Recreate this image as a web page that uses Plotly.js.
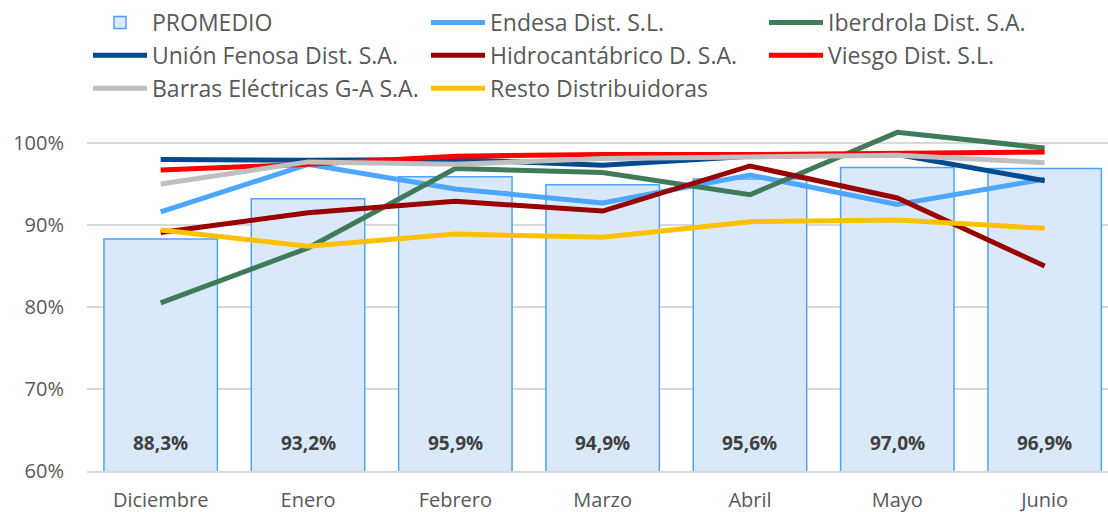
<!DOCTYPE html>
<html>
<head>
<meta charset="utf-8">
<script src="https://cdn.plot.ly/plotly-3.0.1.min.js"></script>
<style>html,body{margin:0;padding:0;background:#fff;}#chart{width:1108px;height:512px;}</style>
</head>
<body>
<div id="chart"></div>
<script>
const months = ["Diciembre","Enero","Febrero","Marzo","Abril","Mayo","Junio"];
const promedio = [88.3, 93.2, 95.9, 94.9, 95.6, 97.0, 96.9];
const endesa = [91.6, 97.4, 94.4, 92.7, 96.1, 92.5, 95.6];
const iberdrola = [80.5, 87.2, 96.9, 96.4, 93.7, 101.3, 99.4];
const unionFenosa = [98.0, 97.9, 98.0, 97.3, 98.4, 98.6, 95.4];
const hidrocantabrico = [89.1, 91.5, 92.9, 91.7, 97.2, 93.3, 85.0];
const viesgo = [96.7, 97.4, 98.4, 98.6, 98.6, 98.7, 98.9];
const barras = [95.0, 97.7, 97.4, 98.1, 98.3, 98.5, 97.6];
const resto = [89.4, 87.4, 88.9, 88.5, 90.4, 90.6, 89.6];
const yTicks = [60, 70, 80, 90, 100];

const FONT = "Open Sans, Noto Sans, sans-serif";
const GREY = "#595959";

function line(name, y, color, legend) {
  return {type: "scatter", mode: "lines", name: name, x: months, y: y,
    line: {color: color, width: 5}, legend: legend, legendgroup: name};
}

const traces = [
  {type: "bar", name: "PROMEDIO", x: months, y: promedio, width: 0.77,
   marker: {color: "#DAE9FA", line: {color: "#4DA3FF", width: 1.5}},
   legend: "legend", legendgroup: "PROMEDIO", hoverinfo: "y"},
  line("Endesa Dist. S.L.", endesa, "#4DA6FF", "legend2"),
  line("Iberdrola Dist. S.A.", iberdrola, "#3F7A5A", "legend3"),
  line("Unión Fenosa Dist. S.A.", unionFenosa, "#004A8F", "legend"),
  line("Hidrocantábrico D. S.A.", hidrocantabrico, "#990000", "legend2"),
  line("Viesgo Dist. S.L.", viesgo, "#FF0000", "legend3"),
  line("Barras Eléctricas G-A S.A.", barras, "#BFBFBF", "legend"),
  line("Resto Distribuidoras", resto, "#FFC000", "legend2")
];

const annotations = months.map((m, i) => ({
  x: m, xref: "x", y: 0, yref: "paper", yanchor: "bottom", yshift: 13,
  text: promedio[i].toFixed(1).replace(".", ",") + "%", showarrow: false,
  font: {family: FONT, size: 19, color: "#404040", weight: "bold"}
}));

function leg(xpx) {
  return {orientation: "v", xref: "container", yref: "container",
    x: (xpx - 24) / 1108, y: 1 - 1 / 512, xanchor: "left", yanchor: "top",
    itemwidth: 54,
    font: {family: FONT, size: 23, color: GREY}, tracegroupgap: 0,
    bgcolor: "rgba(0,0,0,0)", borderwidth: 0, traceorder: "grouped"};
}

const layout = {
  width: 1108, height: 512,
  margin: {l: 87, r: 0, t: 114, b: 41, autoexpand: false},
  paper_bgcolor: "#fff", plot_bgcolor: "#fff",
  separators: ",.",
  showlegend: true,
  legend: leg(112), legend2: leg(450), legend3: leg(788),
  xaxis: {type: "category", range: [-0.5, 6.43], showgrid: false,
    showline: true, linecolor: "#D9D9D9", linewidth: 1.5, ticks: "",
    tickfont: {family: FONT, size: 20, color: GREY}, ticklabelstandoff: 10},
  yaxis: {range: [60, 103.54], tickmode: "array", tickvals: yTicks,
    ticktext: yTicks.map(v => v + "%"),
    showgrid: true, gridcolor: "#D9D9D9", gridwidth: 1.5, zeroline: false,
    showline: false, ticks: "",
    tickfont: {family: FONT, size: 20, color: GREY}, ticklabelstandoff: 22},
  annotations: annotations,
  bargap: 0.23
};

Plotly.newPlot("chart", traces, layout, {displayModeBar: false, staticPlot: true});
</script>
</body>
</html>
